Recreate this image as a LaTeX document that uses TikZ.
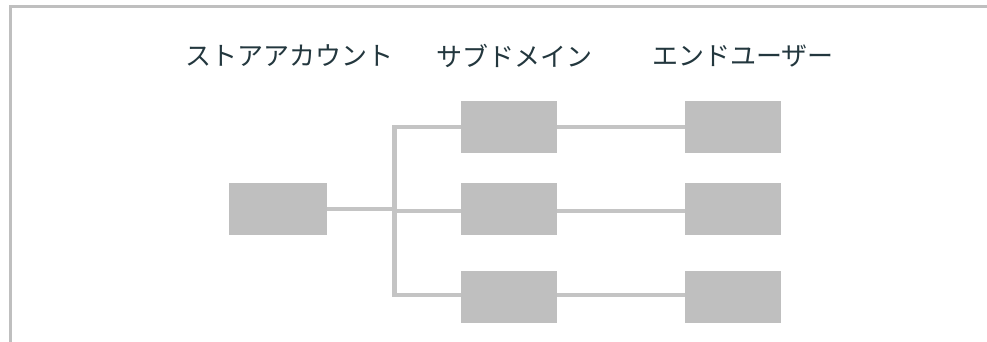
\documentclass[tikz,border=0pt]{standalone}
\usepackage{fontspec}
\newfontfamily\jpfont{Noto Sans CJK JP}
\definecolor{boxgray}{RGB}{191,191,191}
\definecolor{linegray}{RGB}{196,196,196}
\definecolor{txt}{RGB}{35,55,62}
\begin{document}
\begin{tikzpicture}[x=1pt,y=-1pt,
  box/.style={fill=boxgray,draw=none,minimum width=96pt,minimum height=52pt,inner sep=0pt,outer sep=0pt},
  lbox/.style={box,minimum width=98pt},
  conn/.style={draw=linegray,line width=4.2pt},
  frame/.style={draw=boxgray,line width=3.8pt},
  head/.style={font=\jpfont\fontsize{26}{30}\selectfont,text=txt,inner sep=0pt,anchor=center}]
\useasboundingbox (0,0) rectangle (987,341);
% frame
\coordinate (fbl) at (10.5,345);
\coordinate (ftl) at (10.5,6.5);
\coordinate (ftr) at (990,6.5);
\draw[frame] (fbl) -- (ftl) -- (ftr);
% headings
\node[head] (h1) at (289,56) {ストアアカウント};
\node[head] (h2) at (514,56) {サブドメイン};
\node[head] (h3) at (743,56) {エンドユーザー};
% boxes
\node[lbox] (s) at (278,209) {};
\node[box] (m1) at (509,127) {};
\node[box] (m2) at (509,209) {};
\node[box] (m3) at (509,297) {};
\node[box] (e1) at (733,127) {};
\node[box] (e2) at (733,209) {};
\node[box] (e3) at (733,297) {};
% connectors
\coordinate (jt) at (394.5,127);
\coordinate (jm) at (394.5,209);
\coordinate (jm2) at (394.5,211);
\coordinate (jb) at (394.5,295);
\draw[conn] (s.east) -- (jm);
\draw[conn] (m1.west |- jt) -- (jt) -- (jb) -- (m3.west |- jb);
\draw[conn] (jm2) -- (m2.west |- jm2);
\draw[conn] (m1.east |- jt) -- (e1.west |- jt);
\draw[conn] (m2.east |- jm2) -- (e2.west |- jm2);
\draw[conn] (m3.east |- jb) -- (e3.west |- jb);
\end{tikzpicture}
\end{document}
